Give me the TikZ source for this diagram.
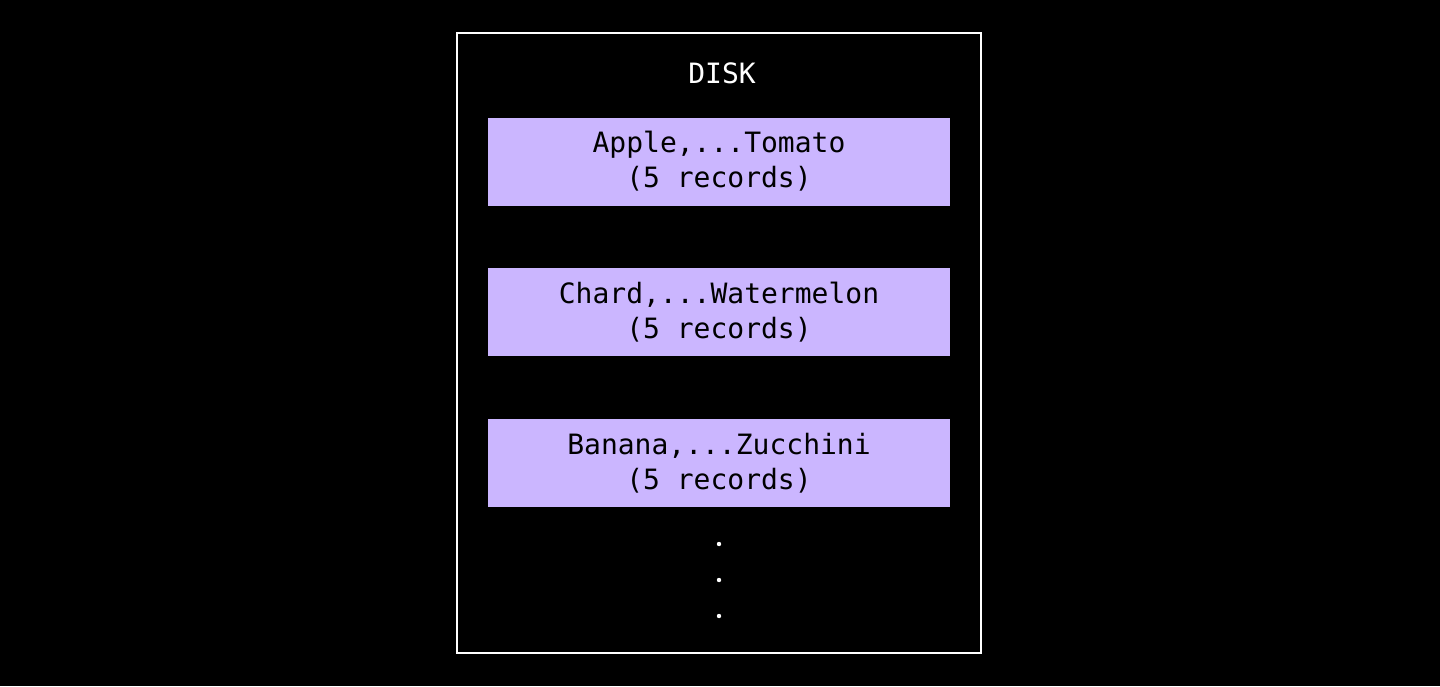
\documentclass[tikz,border=0pt]{standalone}
\usepackage{fontspec}
\setmonofont{DejaVu Sans Mono}
\usetikzlibrary{positioning}
\definecolor{Lavender}{RGB}{203,182,255}
\tikzset{
  pageblock/.style={fill=Lavender, text=black, align=center, inner sep=0pt,
    minimum width=231pt, minimum height=44pt,
    font=\ttfamily\fontsize{14}{18}\selectfont},
}

\begin{document}
\begin{tikzpicture}[x=0.5pt,y=-0.5pt]
        \fill[black] (0,0) rectangle (1440,686);
        \node[draw=white, line width=1pt, inner sep=0pt, minimum width=262pt, minimum height=310pt] (disk) at (719,343) {};
        \node[white, font=\ttfamily\fontsize{14}{18}\selectfont] (title) at (722,73) {DISK};

        \node[pageblock] (pageA) at (719,161.5) {Apple,...Tomato\\[-0.5pt](5 records)};
        \node[pageblock, below=31pt of pageA] (pageB) {Chard,...Watermelon\\[-0.5pt](5 records)};
        \node[pageblock, below=31pt of pageB] (pageC) {Banana,...Zucchini\\[-0.5pt](5 records)};

        \foreach \y in {544,580,616}
            \fill[white] (719,\y) circle (1.1pt);
    \end{tikzpicture}
\end{document}
